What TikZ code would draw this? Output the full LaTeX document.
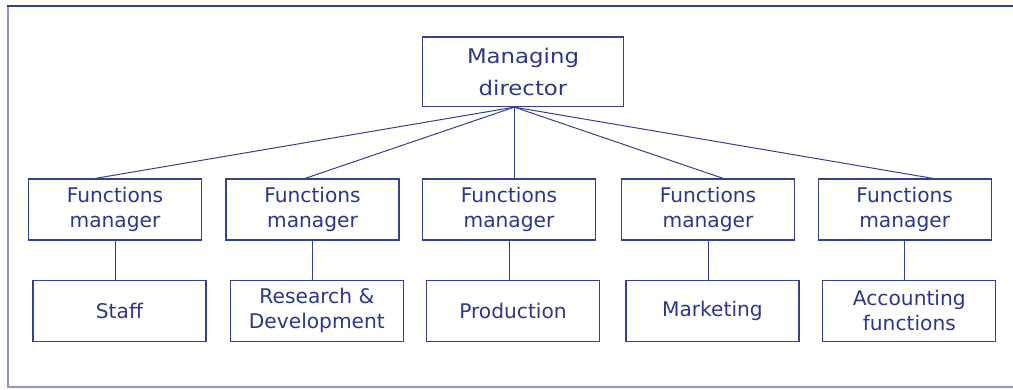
\documentclass[tikz,border=0pt]{standalone}
\usepackage{fontspec}
\setmainfont{DejaVu Sans}
\newfontfamily\mdfont[FakeStretch=1.13]{DejaVu Sans}
\definecolor{ink}{RGB}{42,55,140}
\definecolor{boxline}{RGB}{52,64,145}
\definecolor{framelight}{RGB}{140,150,200}
\tikzset{
  box/.style={draw=boxline, line width=1.3pt, inner sep=0pt, align=center, text=ink,
    minimum width=173pt, minimum height=61pt},
  mdbox/.style={draw=boxline, line width=1.3pt, inner sep=0pt, align=center, text=ink,
    minimum width=201pt, minimum height=69.6pt, font=\mdfont\fontsize{20.2}{32}\selectfont},
  fmtext/.style={font=\fontsize{20.2}{25}\selectfont},
  conn/.style={draw=boxline, line width=1pt}
}
\begin{document}
\begin{tikzpicture}[x=1pt,y=1pt]
\useasboundingbox (0,0) rectangle (1013,389);
% frame
\draw[framelight, line width=2pt] (7.5,383) -- (7.5,2.5) -- (1013,2.5);
\draw[boxline, line width=1.8pt] (6.5,383) -- (1013,383);
% top
\node[mdbox] (md) at (523,317.3) {Managing\\director};
% function managers
\node[box, fmtext] (fm1) at (115,179.4) {Functions\\manager};
\node[box, fmtext] (fm2) at (312.5,179.4) {Functions\\manager};
\node[box, fmtext] (fm3) at (509,179.4) {Functions\\manager};
\node[box, fmtext] (fm4) at (708,179.4) {Functions\\manager};
\node[box, fmtext] (fm5) at (904.7,179.4) {Functions\\manager};
% departments
\node[box, fmtext] (d1) at (119.4,78.2) {Staff};
\node[box, fmtext] (d2) at (316.9,78.2) {Research \&\\Development};
\node[box, fmtext] (d3) at (513,78.2) {Production};
\node[box, fmtext] (d4) at (712.4,78.2) {Marketing};
\node[box, fmtext] (d5) at (909.3,78.2) {Accounting\\functions};
% apex
\coordinate (apex) at ([xshift=-8.7pt]md.south);
\draw[conn] (apex) -- ([xshift=-20pt]fm1.north);
\draw[conn] (apex) -- ([xshift=-7.5pt]fm2.north);
\draw[conn] (apex) -- (apex |- fm3.north);
\draw[conn] (apex) -- ([xshift=15.3pt]fm4.north);
\draw[conn] (apex) -- ([xshift=28.6pt]fm5.north);
% verticals
\foreach \i in {1,...,5}{
  \draw[conn] (fm\i.south) -- (fm\i.south |- d\i.north);
}
\end{tikzpicture}
\end{document}
